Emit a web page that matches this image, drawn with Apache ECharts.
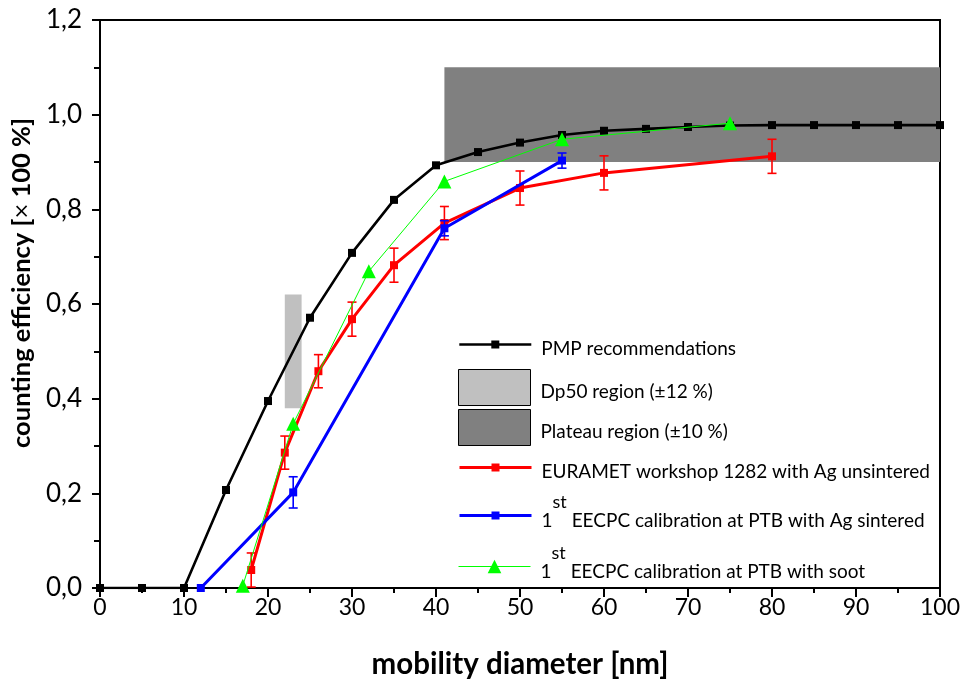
<!DOCTYPE html>
<html>
<head>
<meta charset="utf-8">
<script src="https://cdn.jsdelivr.net/npm/echarts@6/dist/echarts.min.js"></script>
<style>
  html, body { margin: 0; padding: 0; background: #fff; }
  #chart { width: 964px; height: 682px; }
</style>
</head>
<body>
<div id="chart"></div>
<script>
// PMP recommended counting efficiency curve
const pmpDiameter = [0, 5, 10, 15, 20, 25, 30, 35, 40, 45, 50, 55, 60, 65, 70, 75, 80, 85, 90, 95, 100];
const pmpEfficiency = [0, 0, 0, 0.207, 0.395, 0.571, 0.708, 0.820, 0.893, 0.921, 0.941, 0.957, 0.966, 0.970, 0.974, 0.977, 0.978, 0.978, 0.978, 0.978, 0.978];

// EURAMET workshop 1282, Ag unsintered
const euraDiameter = [18, 22, 26, 30, 35, 41, 50, 60, 80];
const euraEfficiency = [0.038, 0.286, 0.458, 0.568, 0.682, 0.771, 0.845, 0.877, 0.912];
const euraError = [0.036, 0.035, 0.035, 0.036, 0.036, 0.035, 0.036, 0.036, 0.036];

// 1st EECPC calibration at PTB, Ag sintered
const agDiameter = [12, 23, 41, 55];
const agEfficiency = [0, 0.202, 0.760, 0.903];
const agError = [0, 0.033, 0.016, 0.016];

// 1st EECPC calibration at PTB, soot
const sootDiameter = [17, 23, 32, 41, 55, 75];
const sootEfficiency = [0.005, 0.347, 0.669, 0.859, 0.948, 0.982];

// Shaded tolerance regions: [x from, x to], [y from, y to]
const dp50Diameter = [22, 24];
const dp50Efficiency = [0.38, 0.62];
const plateauDiameter = [41, 100];
const plateauEfficiency = [0.9, 1.1];

// Axis ticks
const xTicks = { min: 0, max: 100, interval: 10 };
const yTicks = { min: 0, max: 1.2, interval: 0.2 };

const names = {
  pmp: 'PMP recommendations',
  dp50: 'Dp50 region (±12 %)',
  plateau: 'Plateau region (±10 %)',
  eura: 'EURAMET workshop 1282 with Ag unsintered',
  ag: '1st EECPC calibration at PTB with Ag sintered',
  soot: '1st EECPC calibration at PTB with soot'
};

const FONT = 'Lato';
const zip = (xs, ys) => xs.map((x, i) => [x, ys[i]]);

function regionSeries(name, xs, ys, color) {
  return {
    type: 'custom',
    name: name,
    z: 1,
    itemStyle: { color: color },
    encode: { x: [0, 1], y: [2, 3] },
    data: [[xs[0], xs[1], ys[0], ys[1]]],
    renderItem: function (params, api) {
      const a = api.coord([api.value(0), api.value(3)]);
      const b = api.coord([api.value(1), api.value(2)]);
      return {
        type: 'rect',
        shape: { x: a[0], y: a[1], width: b[0] - a[0], height: b[1] - a[1] },
        style: { fill: color }
      };
    }
  };
}

function errorSeries(xs, ys, errs, color, z) {
  return {
    type: 'custom',
    z: z,
    silent: true,
    encode: { x: 0, y: 1 },
    data: xs.map((x, i) => [x, ys[i], errs[i]]),
    renderItem: function (params, api) {
      const err = api.value(2);
      if (!err) return null;
      const x = api.value(0), y = api.value(1);
      const top = api.coord([x, y + err]);
      const bot = api.coord([x, y - err]);
      const cap = 4.5;
      const st = { stroke: color, lineWidth: 1.6 };
      return {
        type: 'group',
        children: [
          { type: 'line', shape: { x1: top[0], y1: top[1], x2: bot[0], y2: bot[1] }, style: st },
          { type: 'line', shape: { x1: top[0] - cap, y1: top[1], x2: top[0] + cap, y2: top[1] }, style: st },
          { type: 'line', shape: { x1: bot[0] - cap, y1: bot[1], x2: bot[0] + cap, y2: bot[1] }, style: st }
        ]
      };
    }
  };
}

const legendText = {
  fontFamily: FONT,
  fontSize: 19,
  color: '#000',
  lineHeight: 22,
  padding: [9, 0, 0, 5],
  rich: {
    b: { fontFamily: FONT, fontSize: 19, color: '#000', lineHeight: 22 },
    s: { fontFamily: FONT, fontSize: 18, color: '#000', lineHeight: 18, padding: [0, 0, 38, 0] }
  }
};

const supText = Object.assign({}, legendText, { padding: [11, 0, 0, 5] });

// "1st" is written with a raised "st"
function legendFormatter(name) {
  if (name.indexOf('1st ') === 0) {
    return '{b|1}{s|st}{b| ' + name.slice(4) + '}';
  }
  return name;
}

function legendBox(top, itemHeight, data, textStyle) {
  return {
    left: 458,
    top: top,
    orient: 'vertical',
    padding: 0,
    itemWidth: 72,
    itemHeight: itemHeight,
    selectedMode: false,
    lineStyle: { width: 'inherit' },
    textStyle: textStyle || legendText,
    formatter: legendFormatter,
    data: data
  };
}

const option = {
  animation: false,
  backgroundColor: '#fff',
  textStyle: { fontFamily: FONT },
  grid: {
    left: 100, right: 24, top: 20, bottom: 94,
    outerBoundsMode: 'none',
    containLabel: false,
    show: true, borderColor: '#000', borderWidth: 2, backgroundColor: 'transparent'
  },
  legend: [
    legendBox(329, 10, [names.pmp]),
    legendBox(369, 36, [{ name: names.dp50, icon: 'rect', itemStyle: { color: '#c0c0c0', borderColor: '#000', borderWidth: 1 } }]),
    legendBox(409, 36, [{ name: names.plateau, icon: 'rect', itemStyle: { color: '#808080', borderColor: '#000', borderWidth: 1 } }]),
    legendBox(452, 10, [names.eura]),
    legendBox(493, 10, [names.ag], supText),
    legendBox(544, 17, [names.soot], supText)
  ],
  xAxis: {
    type: 'value',
    min: xTicks.min, max: xTicks.max, interval: xTicks.interval,
    name: 'mobility diameter [nm]',
    nameLocation: 'middle',
    nameGap: 61,
    nameTextStyle: { fontFamily: FONT, fontWeight: 'bold', fontSize: 29.5, color: '#000' },
    axisLine: { onZero: false, lineStyle: { color: '#000', width: 2 } },
    axisTick: { inside: false, length: 9, lineStyle: { color: '#000', width: 2 } },
    minorTick: { show: true, splitNumber: 2, length: 5, lineStyle: { color: '#000', width: 2 } },
    splitLine: { show: false },
    axisLabel: { margin: 8, fontFamily: FONT, fontSize: 23, color: '#000' }
  },
  yAxis: {
    type: 'value',
    min: yTicks.min, max: yTicks.max, interval: yTicks.interval,
    name: '{b|counting efficiency [}{r|×}{b| 100 %]}',
    nameLocation: 'middle',
    nameGap: 57,
    nameTextStyle: {
      padding: [0, 0, 0, 42],
      rich: {
        b: { fontFamily: FONT, fontWeight: 'bold', fontSize: 25.5, color: '#000' },
        r: { fontFamily: FONT, fontWeight: 'normal', fontSize: 25.5, color: '#000' }
      }
    },
    axisLine: { lineStyle: { color: '#000', width: 2 } },
    axisTick: { inside: false, length: 8, lineStyle: { color: '#000', width: 2 } },
    minorTick: { show: true, splitNumber: 2, length: 6, lineStyle: { color: '#000', width: 2 } },
    splitLine: { show: false },
    axisLabel: {
      margin: 18, fontFamily: FONT, fontSize: 26, color: '#000',
      formatter: v => v.toFixed(1).replace('.', ',')
    }
  },
  series: [
    regionSeries(names.plateau, plateauDiameter, plateauEfficiency, '#808080'),
    regionSeries(names.dp50, dp50Diameter, dp50Efficiency, '#c0c0c0'),
    {
      type: 'line', name: names.pmp, z: 3,
      data: zip(pmpDiameter, pmpEfficiency),
      symbol: 'rect', symbolSize: 8,
      lineStyle: { color: '#000', width: 2.6 },
      itemStyle: { color: '#000' }
    },
    {
      type: 'line', name: names.eura, z: 4,
      data: zip(euraDiameter, euraEfficiency),
      symbol: 'rect', symbolSize: 8,
      lineStyle: { color: '#ff0000', width: 3 },
      itemStyle: { color: '#ff0000' }
    },
    errorSeries(euraDiameter, euraEfficiency, euraError, '#ff0000', 4),
    {
      type: 'line', name: names.ag, z: 5,
      data: zip(agDiameter, agEfficiency),
      symbol: 'rect', symbolSize: 8,
      lineStyle: { color: '#0000ff', width: 3 },
      itemStyle: { color: '#0000ff' }
    },
    errorSeries(agDiameter, agEfficiency, agError, '#0000ff', 5),
    {
      type: 'line', name: names.soot, z: 6,
      data: zip(sootDiameter, sootEfficiency),
      symbol: 'triangle', symbolSize: 14,
      lineStyle: { color: '#00ff00', width: 1 },
      itemStyle: { color: '#00ff00' }
    }
  ]
};

const chart = echarts.init(document.getElementById('chart'), null, { renderer: 'canvas' });
chart.setOption(option);
</script>
</body>
</html>
